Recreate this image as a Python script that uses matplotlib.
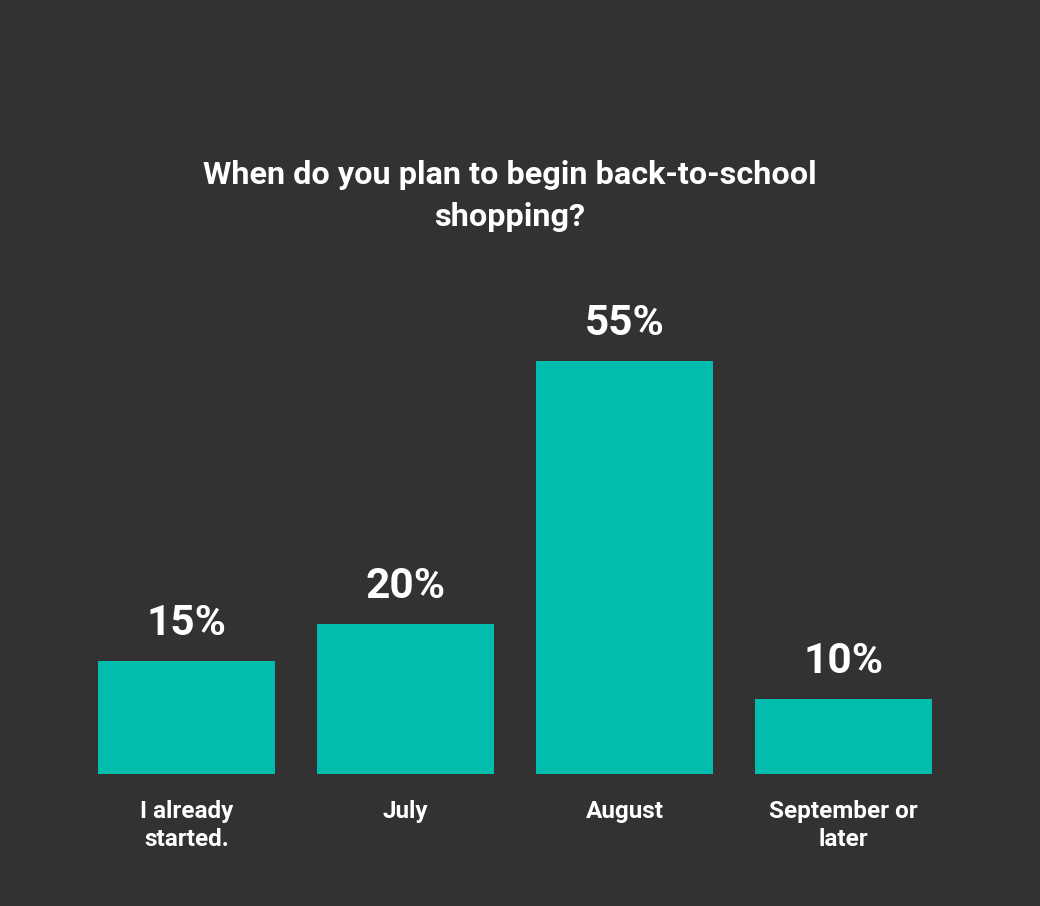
import matplotlib.pyplot as plt

categories = ["I already\nstarted.", "July", "August", "September or\nlater"]
shares = [15, 20, 55, 10]
value_labels = ["15%", "20%", "55%", "10%"]
title = "When do you plan to begin back-to-school\nshopping?"

BG = "#333132"
TEAL = "#00BDAD"
FONT = ["Roboto", "DejaVu Sans"]

W, H, DPI = 1040, 906, 100
fig = plt.figure(figsize=(W / DPI, H / DPI), dpi=DPI, facecolor=BG)

# axes spans the bar area: baseline at y=774px, 55% at y=361px
bottom = (H - 774) / H
height = (774 - 361) / H
ax = fig.add_axes([0, bottom, 1, height])
ax.patch.set_alpha(0)

x = list(range(len(categories)))
ax.bar(x, shares, width=0.81, color=TEAL)
ax.set_xlim(-186.5 / 219, (W - 186.5) / 219)
ax.set_ylim(0, 55)
ax.axis("off")

for i, (v, lab) in enumerate(zip(shares, value_labels)):
    ax.annotate(lab, xy=(i, v), xytext=(0, 26 * 72 / DPI), textcoords="offset points",
                ha="center", va="baseline", color="white", fontsize=30.5,
                fontweight="semibold", family=FONT)

for i, cat in enumerate(categories):
    ax.annotate(cat, xy=(i, 0), xytext=(0, -26 * 72 / DPI), textcoords="offset points",
                ha="center", va="top", color="white", fontsize=17.5,
                fontweight="bold", family=FONT, linespacing=1.27)

fig.text(510 / W, 1 - 160 / H, title, ha="center", va="top", color="white",
         fontsize=23.3, fontweight="bold", family=FONT, linespacing=1.52)

fig.savefig("out.png", dpi=DPI, facecolor=BG)
